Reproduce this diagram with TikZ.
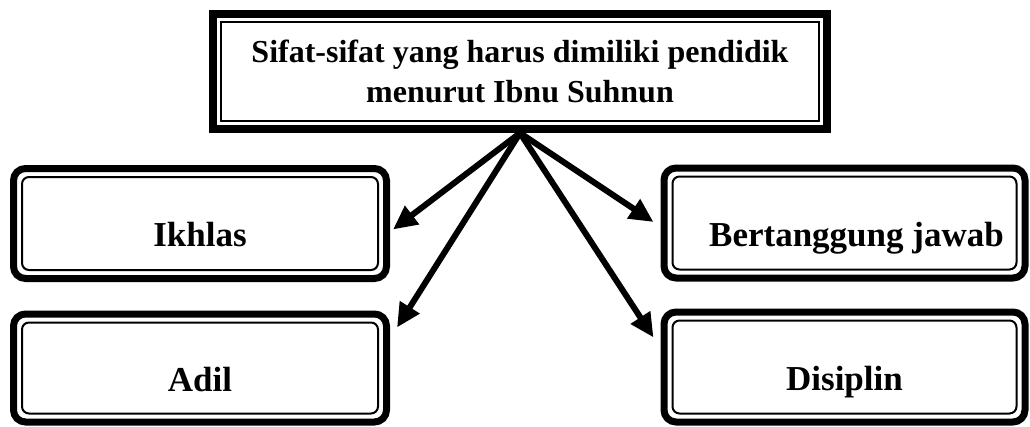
\documentclass[tikz,border=0pt]{standalone}
\usepackage{fontspec}
\setmainfont{Liberation Serif}
\usetikzlibrary{arrows.meta}

\tikzset{
  sifat/.style={font=\fontsize{32}{40}\selectfont\bfseries, align=center},
  judul/.style={sifat, draw, line width=8pt, minimum width=614pt, minimum height=115pt,
    path picture={\draw[line width=2.5pt]
      ([shift={(8,8)}]path picture bounding box.north west) rectangle
      ([shift={(-8,-8)}]path picture bounding box.south east);}},
  kotak/.style={font=\fontsize{35}{42}\selectfont\bfseries, text height=46pt, text depth=0pt,
    draw, line width=7pt, rounded corners=12pt, minimum height=110pt,
    path picture={\draw[line width=2pt, rounded corners=7pt]
      ([shift={(8.5,8.5)}]path picture bounding box.north west) rectangle
      ([shift={(-8.5,-8.5)}]path picture bounding box.south east);}},
  panah/.style={line width=6pt, -{Triangle[length=24pt,width=22pt]}}
}

\begin{document}
\begin{tikzpicture}[x=1pt, y=-1pt]
  \useasboundingbox (0,0) rectangle (1030,426);
  % judul
  \node[judul] (utama) at (520,71.5) {Sifat-sifat yang harus dimiliki pendidik\\menurut Ibnu Suhnun};
  % sifat-sifat
  \node[kotak, minimum width=373pt] (ikhlas) at (200,223.5) {Ikhlas};
  \node[kotak, minimum width=373pt, minimum height=108pt] (adil) at (200,368) {Adil};
  \node[kotak, minimum width=361pt] (tanggung) at (844.5,223) {\hspace*{24pt}Bertanggung jawab};
  \node[kotak, minimum width=361pt] (disiplin) at (844.5,367) {Disiplin};
  % panah
  \draw[panah] (utama.south) -- ([shift={(3,6)}]ikhlas.east);
  \draw[panah] (utama.south) -- ([shift={(7,17)}]adil.north east);
  \draw[panah] (utama.south) -- ([shift={(-7,-1)}]tanggung.west);
  \draw[panah] (utama.south) -- ([shift={(-7,29)}]disiplin.north west);
\end{tikzpicture}
\end{document}
